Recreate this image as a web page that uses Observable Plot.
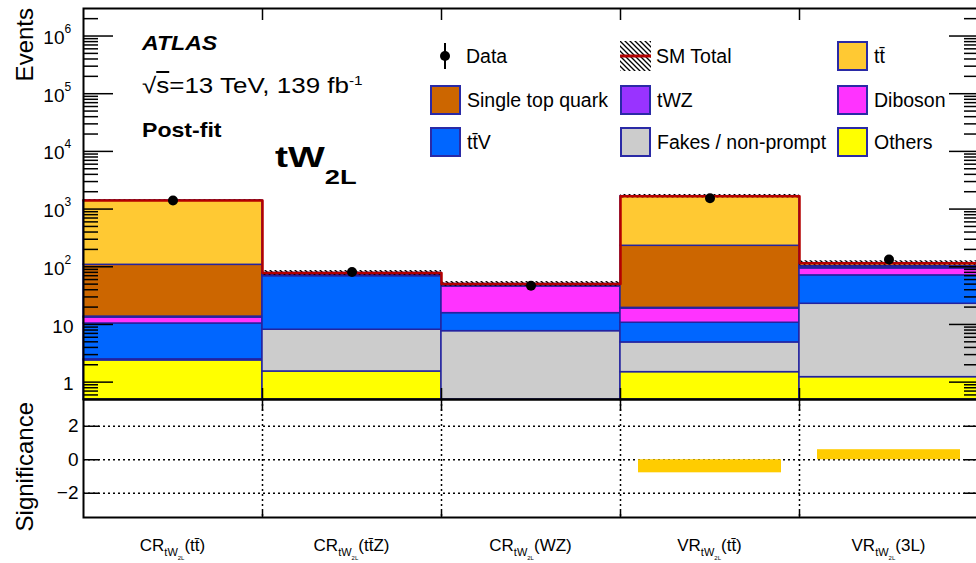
<!DOCTYPE html>
<html>
<head>
<meta charset="utf-8">
<script src="https://cdn.jsdelivr.net/npm/d3@7"></script>
<script src="https://cdn.jsdelivr.net/npm/@observablehq/plot@0.6"></script>
<style>
  html, body { margin: 0; padding: 0; background: #fff; }
  #fig { position: relative; width: 976px; height: 563px; overflow: hidden;
         font-family: "Liberation Sans", Arial, Helvetica, sans-serif; color: #000; }
  #fig svg.panel { position: absolute; left: 0; max-width: none !important; }
  .abs { position: absolute; white-space: nowrap; line-height: 1; }
  .ov { text-decoration: overline; }
  .xlab { font-size: 17px; transform: translateX(-50%); }
  .xlab .s1 { font-size: 11px; position: relative; top: 5px; }
  .xlab .s2 { font-size: 6px; position: relative; top: 4px; }
  .leg { position: absolute; display: flex; align-items: center; height: 30px; font-size: 19.5px; white-space: nowrap; }
  .sw { width: 27px; height: 26px; border: 2px solid #2a2aa6; margin-right: 6px; }
</style>
</head>
<body>
<svg width="0" height="0" style="position:absolute">
  <defs>
    <pattern id="hatch" patternUnits="userSpaceOnUse" width="5" height="5">
      <path d="M0,0 L5,5 M-1,4 L1,6 M4,-1 L6,1" stroke="#000" stroke-width="1.3"/>
    </pattern>
  </defs>
</svg>
<div id="fig"></div>
<script>
// Five analysis regions (bins), control regions then validation regions
const regionKind = ["CR", "CR", "CR", "VR", "VR"];
const regionTag = ["tt\u0304", "tt\u0304Z", "WZ", "tt\u0304", "3L"];

// Post-fit yields per process, stacked bottom to top
const others    = [2.38, 1.53, 0.30, 1.49, 1.22];
const fakes     = [0.10, 6.57, 7.35, 3.39, 21.6];
const ttV       = [7.9, 60.6, 8.05, 5.82, 48.0];
const diboson   = [2.8, 2.0, 29.9, 8.2, 22.8];
const tWZ       = [0.5, 4.0, 2.5, 0.5, 5.0];
const singleTop = [94.4, 1.5, 1.0, 211.6, 4.0];
const ttbar     = [1302, 2.0, 1.3, 1443, 13.0];

// Observed events, relative total uncertainty, and significance per region
const dataObs = [1410, 81, 47, 1545, 134];
const relUnc = [0.03, 0.10, 0.10, 0.07, 0.10];
const significance = [0, 0, 0, -0.78, 0.60];

// Axis ticks
const yTicksMajor = [1, 10, 100, 1e3, 1e4, 1e5, 1e6];
const sigTicks = [-2, 0, 2];

const processes = [
  {name: "Others", values: others, color: "#ffff00"},
  {name: "Fakes / non-prompt", values: fakes, color: "#cccccc"},
  {name: "tt\u0304V", values: ttV, color: "#0066ff"},
  {name: "Diboson", values: diboson, color: "#ff33ff"},
  {name: "tWZ", values: tWZ, color: "#9933ff"},
  {name: "Single top quark", values: singleTop, color: "#cc6600"},
  {name: "tt\u0304", values: ttbar, color: "#ffc933"}
];
const colorOf = Object.fromEntries(processes.map(p => [p.name, p.color]));

const yMin = 0.5, yMax = 3e6;
const nBins = regionKind.length;

// Build stacked layers
const stackRows = [];
const totals = [];
for (let i = 0; i < nBins; i++) {
  let lo = 0;
  for (const p of processes) {
    const hi = lo + p.values[i];
    stackRows.push({bin: i, process: p.name, lo, hi});
    lo = hi;
  }
  totals.push(lo);
}
const bandRows = totals.map((t, i) => ({bin: i, lo: t * (1 - relUnc[i]), hi: t * (1 + relUnc[i])}));
const stepPts = totals.map((t, i) => ({x: i, y: t})).concat([{x: nBins, y: totals[nBins - 1]}]);

const minorTicks = [];
for (let k = -1; k <= 6; k++) for (let m = 2; m <= 9; m++) {
  const v = m * Math.pow(10, k);
  if (v > yMin && v < yMax) minorTicks.push(v);
}
const powerTicks = yTicksMajor.filter(v => v >= 100);
const plainTicks = yTicksMajor.filter(v => v < 100);
const binEdges = d3.range(1, nBins);

const baseStyle = {fontFamily: "'Liberation Sans', Arial, sans-serif", fontSize: "18px", background: "transparent", color: "black", maxWidth: "none"};
const blank = () => "";

const main = Plot.plot({
  width: 980, height: 401,
  marginTop: 8, marginBottom: 2, marginLeft: 83, marginRight: 2,
  x: {domain: [0, nBins], axis: null},
  y: {type: "log", domain: [yMin, yMax], clamp: true, axis: null},
  color: {type: "identity"},
  style: baseStyle,
  marks: [
    Plot.rect(stackRows, {
      x1: d => d.bin, x2: d => d.bin + 1,
      y1: d => Math.max(d.lo, yMin), y2: d => Math.max(d.hi, yMin),
      fill: d => colorOf[d.process], stroke: "#2323a0", strokeWidth: 1.5
    }),
    Plot.rect(bandRows, {x1: d => d.bin, x2: d => d.bin + 1, y1: "lo", y2: "hi", fill: "url(#hatch)"}),
    Plot.line(stepPts, {x: "x", y: "y", curve: "step-after", stroke: "#b40000", strokeWidth: 2.5}),
    Plot.ruleX(dataObs, {x: (d, i) => i + 0.5, y1: d => d - Math.sqrt(d), y2: d => d + Math.sqrt(d), stroke: "black", strokeWidth: 2}),
    Plot.dot(dataObs, {x: (d, i) => i + 0.5, y: d => d, r: 5, fill: "black"}),
    Plot.axisY(yTicksMajor, {anchor: "left", tickSize: -30, tickFormat: blank, label: null, strokeWidth: 1.5}),
    Plot.axisY(minorTicks, {anchor: "left", tickSize: -15, tickFormat: blank, label: null, strokeWidth: 1.5}),
    Plot.axisY(yTicksMajor, {anchor: "right", tickSize: -30, tickFormat: blank, label: null, strokeWidth: 1.5}),
    Plot.axisY(minorTicks, {anchor: "right", tickSize: -15, tickFormat: blank, label: null, strokeWidth: 1.5}),
    Plot.axisX(binEdges, {anchor: "bottom", tickSize: -11, tickFormat: blank, label: null, strokeWidth: 1.5}),
    Plot.axisX(binEdges, {anchor: "top", tickSize: -11, tickFormat: blank, label: null, strokeWidth: 1.5}),
    Plot.text(plainTicks, {y: d => d, text: d => String(d), frameAnchor: "left", textAnchor: "end", dx: -10, dy: 2, fontSize: 19}),
    Plot.text(powerTicks, {y: d => d, text: () => "10", frameAnchor: "left", textAnchor: "end", dx: -19, dy: 2, fontSize: 19}),
    Plot.text(powerTicks, {y: d => d, text: d => String(Math.round(Math.log10(d))), frameAnchor: "left", textAnchor: "start", dx: -19, dy: -7, fontSize: 12}),
    Plot.frame({stroke: "black", strokeWidth: 2})
  ]
});
main.classList.add("panel");
main.style.top = "0px";
main.style.maxWidth = "none";

const sig = Plot.plot({
  width: 980, height: 121,
  marginTop: 1, marginBottom: 2, marginLeft: 83, marginRight: 2,
  x: {domain: [0, nBins], axis: null},
  y: {domain: [-3.45, 3.6], axis: null},
  style: baseStyle,
  marks: [
    Plot.gridY(sigTicks, {stroke: "black", strokeOpacity: 1, strokeDasharray: "2,3", strokeWidth: 1.5}),
    Plot.gridX(binEdges, {stroke: "black", strokeOpacity: 1, strokeDasharray: "2,3", strokeWidth: 1.5}),
    Plot.rect(significance, {x1: (d, i) => i, x2: (d, i) => i + 1, y1: 0, y2: d => d, insetLeft: 18, insetRight: 18, fill: "#ffcc00"}),
    Plot.axisY(sigTicks, {anchor: "left", tickSize: -16, tickPadding: 21, label: null, fontSize: 19, strokeWidth: 1.5}),
    Plot.axisY(sigTicks, {anchor: "right", tickSize: -15, tickFormat: blank, label: null, strokeWidth: 1.5}),
    Plot.axisX(binEdges, {anchor: "top", tickSize: -11, tickFormat: blank, label: null, strokeWidth: 1.5}),
    Plot.axisX(binEdges, {anchor: "bottom", tickSize: -6, tickFormat: blank, label: null, strokeWidth: 1.5}),
    Plot.frame({stroke: "black", strokeWidth: 2})
  ]
});
sig.classList.add("panel");
sig.style.top = "398px";
sig.style.maxWidth = "none";

const fig = document.getElementById("fig");
fig.append(main, sig);

function addText(html, left, top, css) {
  const el = document.createElement("div");
  el.className = "abs";
  el.innerHTML = html;
  el.style.left = left + "px";
  el.style.top = top + "px";
  Object.assign(el.style, css || {});
  fig.append(el);
  return el;
}

// Axis titles (rotated)
addText("Events", 13, 208, {width: "200px", textAlign: "right", fontSize: "24px", transformOrigin: "0 0", transform: "rotate(-90deg)"});
addText("Significance", 13, 602, {width: "200px", textAlign: "right", fontSize: "24px", transformOrigin: "0 0", transform: "rotate(-90deg)"});

// Experiment and region labels
addText("ATLAS", 142, 32, {fontSize: "21px", fontWeight: "bold", fontStyle: "italic", transformOrigin: "0 0", transform: "scaleX(1.1)"});
addText("\u221A<span class='ov'>s</span>=13 TeV, 139 fb<sup style='font-size:13px;vertical-align:8px'>-1</sup>", 142, 74,
        {fontSize: "22px", transformOrigin: "0 0", transform: "scaleX(1.18)"});
addText("Post-fit", 142, 119, {fontSize: "21px", fontWeight: "bold", transformOrigin: "0 0", transform: "scaleX(1.1)"});
addText("tW<span style='font-size:21px;position:relative;top:17px'>2L</span>", 275, 142,
        {fontSize: "30px", fontWeight: "bold", transformOrigin: "0 0", transform: "scaleX(1.3)"});

// Legend
const legendEntries = [
  {label: "Data", kind: "data"},
  {label: "SM Total", kind: "total"},
  {label: "tt\u0304", kind: "box"},
  {label: "Single top quark", kind: "box"},
  {label: "tWZ", kind: "box"},
  {label: "Diboson", kind: "box"},
  {label: "tt\u0304V", kind: "box"},
  {label: "Fakes / non-prompt", kind: "box"},
  {label: "Others", kind: "box"}
];
const legendCols = [430, 620, 837];
const legendRows = [56, 100, 142];
legendEntries.forEach((e, k) => {
  const row = document.createElement("div");
  row.className = "leg";
  row.style.left = legendCols[k % 3] + "px";
  row.style.top = (legendRows[Math.floor(k / 3)] - 15) + "px";
  let sw;
  if (e.kind === "box") {
    sw = document.createElement("div");
    sw.className = "sw";
    sw.style.background = colorOf[e.label];
  } else {
    sw = document.createElementNS("http://www.w3.org/2000/svg", "svg");
    sw.setAttribute("width", "31");
    sw.setAttribute("height", "30");
    sw.style.marginRight = "5px";
    sw.innerHTML = e.kind === "data"
      ? "<line x1='15' x2='15' y1='2' y2='28' stroke='black' stroke-width='2'/><circle cx='15' cy='15' r='5' fill='black'/>"
      : "<rect x='0' y='0' width='31' height='30' fill='url(#hatch)'/><line x1='0' x2='31' y1='15' y2='15' stroke='#b40000' stroke-width='3'/>";
  }
  const tx = document.createElement("span");
  tx.textContent = e.label;
  row.append(sw, tx);
  fig.append(row);
});

// Region labels under the significance panel, centred on each bin
const xs = sig.scale("x");
regionKind.forEach((kind, i) => {
  addText(`${kind}<span class="s1">tW<span class="s2">2L</span></span>(${regionTag[i]})`, xs.apply(i + 0.5), 537, {}).classList.add("xlab");
});
</script>
</body>
</html>
